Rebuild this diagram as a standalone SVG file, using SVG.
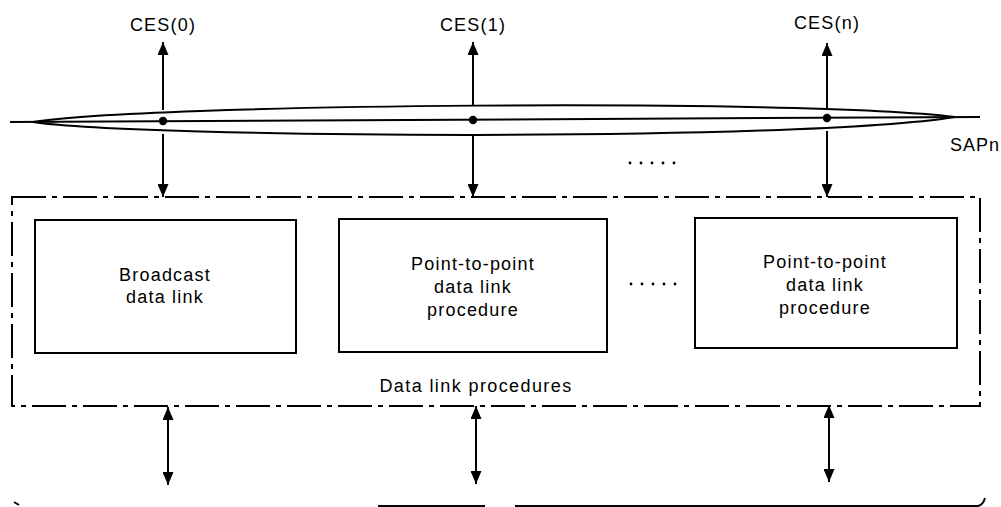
<svg xmlns="http://www.w3.org/2000/svg" width="1001" height="507" viewBox="0 0 1001 507">
<style>
text{font-family:"Liberation Sans",Arial,sans-serif;font-size:18px;fill:#000;letter-spacing:1.2px}
.c{text-anchor:middle}
.ln{stroke:#000;stroke-width:2;fill:none}
.box{stroke:#000;stroke-width:2;fill:none}
.dd{stroke:#000;stroke-width:2;fill:none;stroke-dasharray:34 6 5 6}
</style>
<defs>
<marker id="ah" viewBox="0 0 13 11" refX="13" refY="5.5" markerWidth="13" markerHeight="11" markerUnits="userSpaceOnUse" orient="auto-start-reverse">
<path d="M0,0 L13,5.5 L0,11 Z" fill="#000"/>
</marker>
</defs>
<g id="bus">
<line class="ln" x1="10" y1="122" x2="980" y2="117"/>
<path class="ln" d="M33,122 C140,104 800,98 955,117"/>
<path class="ln" d="M33,122 C140,138 800,142 955,117"/>
<circle cx="163" cy="121" r="4.2" fill="#000"/>
<circle cx="473" cy="120" r="4.2" fill="#000"/>
<circle cx="827" cy="118" r="4.2" fill="#000"/>
<text x="950" y="151" style="letter-spacing:1px">SAPn</text>
</g>
<g id="ces0"><text class="c" x="163" y="31">CES(0)</text></g>
<g id="ces1"><text class="c" x="473" y="31">CES(1)</text></g>
<g id="cesn"><text class="c" x="827" y="29">CES(n)</text></g>
<g id="procedures">
<rect class="dd" x="12" y="197" width="968" height="209"/>
<text class="c" x="476" y="392" style="letter-spacing:1.4px">Data link procedures</text>
</g>
<g id="broadcast">
<rect class="box" x="35" y="220" width="261" height="133"/>
<text class="c" x="165" y="281">Broadcast</text>
<text class="c" x="165" y="303">data link</text>
</g>
<g id="p2p1">
<rect class="box" x="339" y="219" width="268" height="133"/>
<text class="c" x="473" y="270">Point-to-point</text>
<text class="c" x="473" y="293">data link</text>
<text class="c" x="473" y="316">procedure</text>
</g>
<g id="p2pn">
<rect class="box" x="695" y="218" width="262" height="130"/>
<text class="c" x="825" y="268">Point-to-point</text>
<text class="c" x="825" y="291">data link</text>
<text class="c" x="825" y="314">procedure</text>
</g>
<g id="ellipses" fill="#000">
<circle cx="630" cy="163" r="1.4"/><circle cx="641" cy="163" r="1.4"/><circle cx="652" cy="163" r="1.4"/><circle cx="663" cy="163" r="1.4"/><circle cx="674" cy="163" r="1.4"/>
<circle cx="631" cy="284" r="1.4"/><circle cx="642" cy="284" r="1.4"/><circle cx="653" cy="284" r="1.4"/><circle cx="664" cy="284" r="1.4"/><circle cx="675" cy="284" r="1.4"/>
</g>
<g id="connectors">
<line class="ln" x1="163" y1="110" x2="163" y2="42" marker-end="url(#ah)"/>
<line class="ln" x1="473" y1="105" x2="473" y2="42" marker-end="url(#ah)"/>
<line class="ln" x1="827" y1="108" x2="827" y2="43" marker-end="url(#ah)"/>
<line class="ln" x1="163" y1="134" x2="163" y2="197" marker-end="url(#ah)"/>
<line class="ln" x1="473" y1="136" x2="473" y2="197" marker-end="url(#ah)"/>
<line class="ln" x1="827" y1="131" x2="827" y2="197" marker-end="url(#ah)"/>
<line class="ln" x1="168" y1="407" x2="168" y2="485" marker-start="url(#ah)" marker-end="url(#ah)"/>
<line class="ln" x1="476" y1="406" x2="476" y2="484" marker-start="url(#ah)" marker-end="url(#ah)"/>
<line class="ln" x1="829" y1="405" x2="829" y2="482" marker-start="url(#ah)" marker-end="url(#ah)"/>
</g>
<g id="brace">
<path class="ln" d="M14,502 L19,505"/>
<line class="ln" x1="378" y1="506" x2="485" y2="506"/>
<path class="ln" d="M515,506 L978,506 Q983,505 985,498"/>
</g>
</svg>
